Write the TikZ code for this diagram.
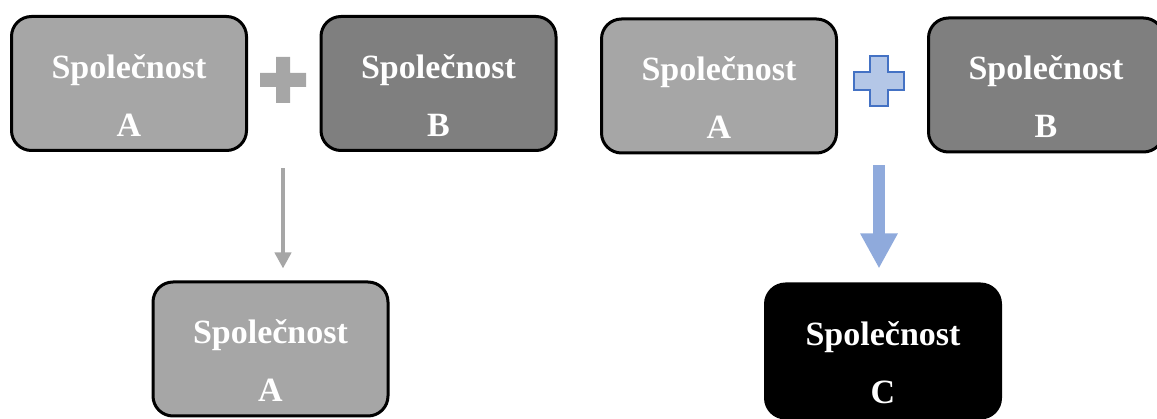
\documentclass[tikz,border=0pt]{standalone}
\usepackage{fontspec}
\setmainfont{Liberation Serif}
\usetikzlibrary{arrows.meta}

\definecolor{lightgrey}{HTML}{A6A6A6}
\definecolor{darkgrey}{HTML}{7F7F7F}
\definecolor{plusblue}{HTML}{B4C7E7}
\definecolor{plusedge}{HTML}{4472C4}
\definecolor{arrowblue}{HTML}{8FAADC}

\begin{document}
\begin{tikzpicture}[x=1pt,y=-1pt]

\tikzset{FirmaStyle/.style = {draw = black, line width = 3pt, rounded corners = 20pt,
                              minimum width = 235pt, minimum height = 134pt, inner sep = 0pt,
                              text = white, align = center, text height = 106pt, text depth = 0pt,
                              font = \fontsize{34}{58}\selectfont\bfseries}}
\tikzset{PlusGrey/.style = {minimum size = 56pt, inner sep = 0pt,
          path picture = {\fill[lightgrey, shift = {(path picture bounding box.center)}]
             (-7,-23) -- (7,-23) -- (7,-7) -- (23,-7) -- (23,7) -- (7,7) -- (7,23)
             -- (-7,23) -- (-7,7) -- (-23,7) -- (-23,-7) -- (-7,-7) -- cycle;}}}
\tikzset{PlusBlue/.style = {minimum size = 56pt, inner sep = 0pt,
          path picture = {\filldraw[fill = plusblue, draw = plusedge, line width = 1.5pt,
                                    shift = {(path picture bounding box.center)}]
             (-9,-25) -- (9,-25) -- (9,-9) -- (25,-9) -- (25,9) -- (9,9) -- (9,25)
             -- (-9,25) -- (-9,9) -- (-25,9) -- (-25,-9) -- (-9,-9) -- cycle;}}}

\useasboundingbox (0,0) rectangle (1157,419);

% fuze sloucenim
\node[FirmaStyle, fill = lightgrey] (A1) at (129,83.5) {Společnost\\A};
\node[PlusGrey] (plusL) at (283,80) {};
\node[FirmaStyle, fill = darkgrey] (B1) at (438.5,83.5) {Společnost\\B};
\node[FirmaStyle, fill = lightgrey] (A3) at (270.5,349) {Společnost\\A};

\draw[lightgrey, line width = 4pt, shorten < = 60pt, shorten > = 12pt,
      -{Triangle[width = 16pt, length = 16pt]}] (plusL.south) -- (plusL.south |- A3.north);

% fuze splynutim
\node[FirmaStyle, fill = lightgrey] (A2) at (719,86) {Společnost\\A};
\node[PlusBlue] (plusR) at (879,81) {};
\node[FirmaStyle, fill = darkgrey] (B2) at (1046,85) {Společnost\\B};
\node[FirmaStyle, fill = black] (C) at (883,351) {Společnost\\C};

\draw[arrowblue, line width = 12pt, shorten < = 56pt, shorten > = 14pt,
      -{Triangle[width = 35pt, length = 35pt]}] (plusR.south) -- (plusR.south |- C.north);

\end{tikzpicture}
\end{document}
